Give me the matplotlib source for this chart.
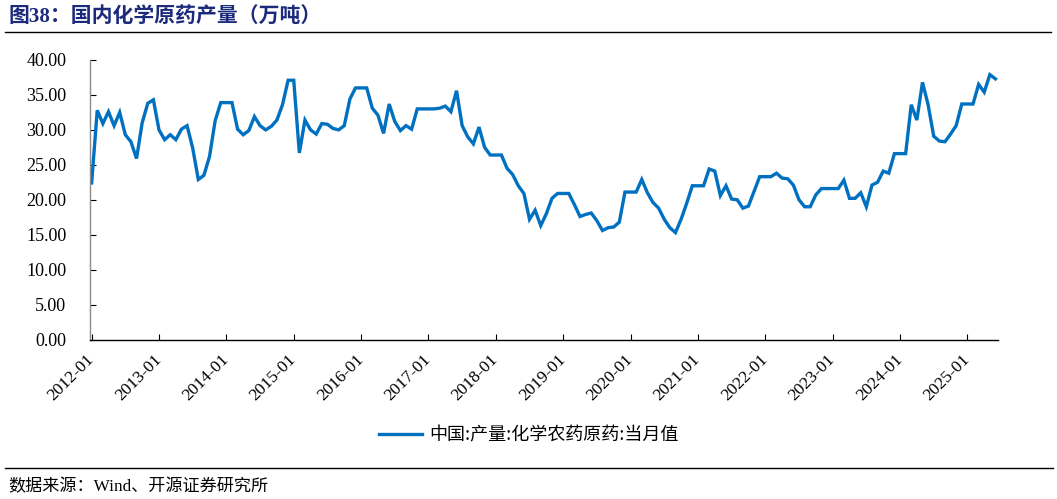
import numpy as np
import pandas as pd
import matplotlib
matplotlib.use('Agg')
import matplotlib.pyplot as plt

# 中国:产量:化学农药原药:当月值 (万吨), 2012-01 ~ 2025-06
y2012 = [22.4, 32.8, 30.9, 32.6, 30.6, 32.5, 29.3, 28.3, 25.9, 31.0, 33.8, 34.3]
y2013 = [30.0, 28.6, 29.3, 28.6, 30.1, 30.6, 27.4, 22.9, 23.5, 26.2, 31.3, 33.9]
y2014 = [33.9, 33.9, 30.1, 29.3, 29.9, 31.9, 30.6, 30.0, 30.5, 31.4, 33.6, 37.1]
y2015 = [37.1, 26.7, 31.4, 30.0, 29.4, 30.9, 30.8, 30.2, 30.0, 30.6, 34.4, 36.0]
y2016 = [36.0, 36.0, 33.1, 32.1, 29.5, 33.7, 31.2, 29.9, 30.6, 30.1, 33.0, 33.0]
y2017 = [33.0, 33.0, 33.1, 33.4, 32.6, 35.6, 30.6, 29.0, 28.0, 30.4, 27.5, 26.4]
y2018 = [26.4, 26.4, 24.5, 23.6, 22.0, 20.9, 17.2, 18.5, 16.3, 18.0, 20.2, 20.9]
y2019 = [20.9, 20.9, 19.3, 17.6, 17.9, 18.1, 17.0, 15.6, 16.0, 16.1, 16.8, 21.1]
y2020 = [21.1, 21.1, 22.9, 21.0, 19.6, 18.8, 17.2, 16.0, 15.3, 17.2, 19.5, 22.0]
y2021 = [22.0, 22.0, 24.4, 24.1, 20.6, 22.0, 20.1, 20.0, 18.8, 19.1, 21.2, 23.3]
y2022 = [23.3, 23.3, 23.8, 23.1, 23.0, 22.1, 20.0, 19.0, 19.0, 20.7, 21.6, 21.6]
y2023 = [21.6, 21.6, 22.8, 20.2, 20.2, 21.0, 19.0, 22.1, 22.5, 24.1, 23.8, 26.6]
y2024 = [26.6, 26.6, 33.6, 31.4, 36.8, 33.6, 29.1, 28.4, 28.3, 29.4, 30.6, 33.7]
y2025 = [33.7, 33.7, 36.5, 35.4, 37.9, 37.3]

values = (y2012 + y2013 + y2014 + y2015 + y2016 + y2017 + y2018
          + y2019 + y2020 + y2021 + y2022 + y2023 + y2024 + y2025)
months = pd.date_range('2012-01-01', periods=len(values), freq='MS')
tick_labels = [m.strftime('%Y-%m') for m in months if m.month == 1]
y_ticks = [0, 5, 10, 15, 20, 25, 30, 35, 40]

serif = ['Liberation Serif', 'Noto Sans CJK SC']
cjk = ['Noto Sans CJK SC', 'DejaVu Sans']

fig = plt.figure(figsize=(10.57, 4.99), dpi=100)
ax = fig.add_axes([0.0851, 0.3196, 0.8588, 0.5602])

x = np.arange(len(values))
ax.plot(x, values, color='#0070C0', lw=2.4, solid_joinstyle='miter')

ax.set_xlim(-0.3, len(values) - 0.6)
ax.set_ylim(0, 40)
ax.set_yticks(y_ticks)
ax.set_yticklabels(['%.2f' % v for v in y_ticks], family=serif, fontsize=13)
ax.set_xticks(x[::12])
ax.set_xticklabels(tick_labels, family=serif, fontsize=12.5, rotation=45,
                   ha='right', va='center', rotation_mode='anchor')
ax.tick_params(axis='both', direction='in', length=4, width=0.8)
ax.tick_params(axis='x', pad=13)
ax.tick_params(axis='y', pad=17)
for lab in ax.get_xticklabels():
    lab.set_x(lab.get_position()[0])

for s in ['top', 'right']:
    ax.spines[s].set_visible(False)
ax.spines['left'].set_color('#8c8c8c')
ax.spines['bottom'].set_color('#000000')
ax.spines['left'].set_linewidth(1.0)
ax.spines['bottom'].set_linewidth(1.0)

leg = ax.legend(['中国:产量:化学农药原药:当月值'], loc='center',
                bbox_to_anchor=(0.5, 0.128), bbox_transform=fig.transFigure,
                frameon=False, prop={'family': cjk, 'size': 13},
                handlelength=2.4, handletextpad=0.4)

fig.text(0.008, 0.965, '图38：国内化学原药产量（万吨）', family=serif,
         fontsize=15, fontweight='bold', color='#1c2a7a', va='center')
fig.add_artist(plt.Line2D([0.005, 0.994], [0.936, 0.936], color='black',
                          lw=1.0, transform=fig.transFigure))
fig.add_artist(plt.Line2D([0.005, 0.996], [0.062, 0.062], color='black',
                          lw=1.0, transform=fig.transFigure))
fig.text(0.008, 0.024, '数据来源：Wind、开源证券研究所', family=serif,
         fontsize=12.3, color='black', va='center')

fig.savefig('out.png', dpi=100)
